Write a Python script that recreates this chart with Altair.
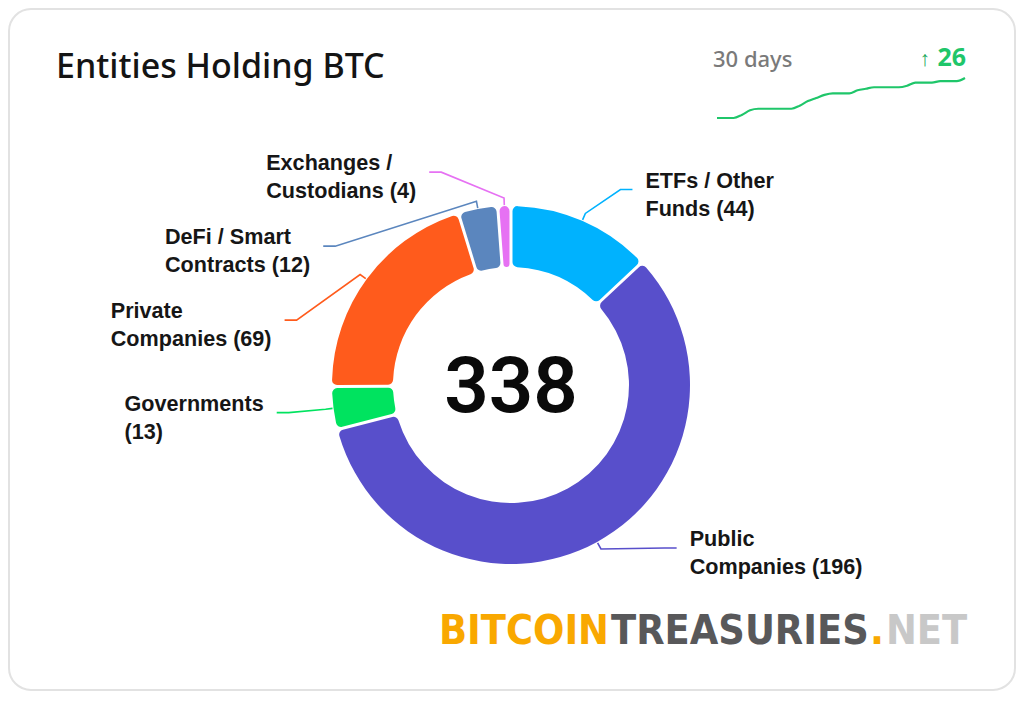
import math
import altair as alt
import pandas as pd

# ---------------- data ----------------
categories = ["ETFs / Other Funds", "Public Companies", "Governments",
              "Private Companies", "DeFi / Smart Contracts", "Exchanges / Custodians"]
counts = [44, 196, 13, 69, 12, 4]
label_line1 = ["ETFs / Other", "Public", "Governments", "Private", "DeFi / Smart", "Exchanges /"]
label_line2 = ["Funds", "Companies", "", "Companies", "Contracts", "Custodians"]
colors = ["#00b2fe", "#584fcb", "#00e35f", "#ff5b1c", "#5b86be", "#e671f3"]

trend_day = list(range(31))
trend_entities = [312, 312, 312, 314, 317, 318, 318, 318, 318, 318, 320, 323, 325, 327, 328,
                  328, 328, 330, 331, 332, 332, 332, 332, 333, 335, 335, 335, 336, 336, 336, 338]

title_text = "Entities Holding BTC"
period_text = "30 days"
logo_parts = ["BITCOIN", "TREASURIES", ".", "NET"]

# ---------------- layout ----------------
W, H = 1006, 681
PAD = 1
OFF = 8 + PAD


def px(v):
    return v - OFF


CX, CY = px(511), px(385)
R_OUT, R_IN = 179, 118
R_NAT, R_X, GAP_Y = 213, 224, 74
Y_MAX = CY + 163
TAIL, TXT_GAP = 12, 13
FS = 21.6
LABEL_FONT = "Liberation Sans, Arial, Helvetica, sans-serif"
GREEN = "#1fc66a"

ARIAL_BOLD = {
    "A": 722, "B": 722, "C": 722, "D": 722, "E": 667, "F": 611, "G": 778, "H": 722, "I": 278,
    "J": 556, "K": 722, "L": 611, "M": 833, "N": 722, "O": 778, "P": 667, "Q": 778, "R": 722,
    "S": 667, "T": 611, "U": 722, "V": 667, "W": 944, "X": 667, "Y": 667, "Z": 611,
    "a": 556, "b": 611, "c": 556, "d": 611, "e": 556, "f": 333, "g": 611, "h": 611, "i": 278,
    "j": 278, "k": 556, "l": 278, "m": 889, "n": 611, "o": 611, "p": 611, "q": 611, "r": 389,
    "s": 556, "t": 333, "u": 611, "v": 556, "w": 778, "x": 556, "y": 556, "z": 500,
    " ": 278, "(": 333, ")": 333, "/": 278,
}


def text_width(s, size):
    return sum(ARIAL_BOLD.get(ch, 556) for ch in s) * size / 1000.0


total = sum(counts)
slices = pd.DataFrame({"category": categories, "count": counts, "idx": list(range(len(counts)))})

# label placement derived from slice angles
info = []
cum = 0
for i, v in enumerate(counts):
    a0 = cum / total * 2 * math.pi
    cum += v
    a1 = cum / total * 2 * math.pi
    mid = (a0 + a1) / 2
    info.append({"i": i, "mid": mid, "left": math.sin(mid) < 0,
                 "ynat": CY - R_NAT * math.cos(mid)})

for side in (True, False):
    items = sorted([d for d in info if d["left"] == side], key=lambda d: d["ynat"])
    prev = -1e9
    for d in items:
        y = max(d["ynat"], prev + GAP_Y)
        d["y"] = min(y, Y_MAX)
        prev = d["y"]

conn_rows, label_rows = [], []
for d in info:
    i = d["i"]
    cat = categories[i]
    s = -1 if d["left"] else 1
    mid = d["mid"]
    dy = d["y"] - CY
    xe = CX + s * math.sqrt(max(R_X ** 2 - dy ** 2, 0))
    xt = xe + s * TAIL
    pts = [(CX + (R_OUT + 1) * math.sin(mid), CY - (R_OUT + 1) * math.cos(mid)),
           (CX + (R_OUT + 8) * math.sin(mid), CY - (R_OUT + 8) * math.cos(mid)),
           (xe, d["y"]), (xt, d["y"])]
    for k, (x, y) in enumerate(pts):
        conn_rows.append({"category": cat, "seq": k, "x": x, "y": y})
    l1 = label_line1[i]
    l2 = (label_line2[i] + " (" + str(counts[i]) + ")").strip()
    wmax = max(text_width(l1, FS), text_width(l2, FS))
    tx = xt + TXT_GAP if s > 0 else xt - TXT_GAP - wmax
    label_rows.append({"category": cat, "t": l1, "x": tx, "y": d["y"] - 8})
    label_rows.append({"category": cat, "t": l2, "x": tx, "y": d["y"] + 20})

conn_df = pd.DataFrame(conn_rows)
label_df = pd.DataFrame(label_rows)
trend_df = pd.DataFrame({"day": trend_day, "entities": trend_entities})
trend_change = trend_entities[-1] - trend_entities[0]

ident_x = alt.Scale(domain=[0, W], range=[0, W], nice=False, zero=False)
ident_y = alt.Scale(domain=[0, H], range=[0, H], nice=False, zero=False)
color_scale = alt.Scale(domain=categories, range=colors)

arc = alt.Chart(slices).mark_arc(
    innerRadius=R_IN, outerRadius=R_OUT, cornerRadius=5, padAngle=0.014
).encode(
    theta=alt.Theta("count:Q", stack=True),
    order=alt.Order("idx:Q", sort="ascending"),
    color=alt.Color("category:N", scale=color_scale, legend=None),
    x=alt.value(CX),
    y=alt.value(CY),
)

connectors = alt.Chart(conn_df).mark_line(strokeWidth=1.6).encode(
    x=alt.X("x:Q", scale=ident_x, axis=None),
    y=alt.Y("y:Q", scale=ident_y, axis=None),
    detail="category:N",
    order=alt.Order("seq:Q"),
    color=alt.Color("category:N", scale=color_scale, legend=None),
)

labels = alt.Chart(label_df).mark_text(
    align="left", baseline="middle", font=LABEL_FONT, fontSize=FS, fontWeight="bold", color="#161616"
).encode(
    x=alt.X("x:Q", scale=ident_x, axis=None),
    y=alt.Y("y:Q", scale=ident_y, axis=None),
    text="t:N",
)

spark = alt.Chart(trend_df).mark_line(color=GREEN, strokeWidth=2.2, interpolate="monotone").encode(
    x=alt.X("day:Q", scale=alt.Scale(domain=[0, 30], range=[px(717), px(965)], nice=False, zero=False), axis=None),
    y=alt.Y("entities:Q", scale=alt.Scale(domain=[312, 338], range=[px(118), px(78)], nice=False, zero=False), axis=None),
)


def note(text, x, y, **style):
    return alt.Chart(pd.DataFrame({"t": [text]})).mark_text(**style).encode(
        x=alt.value(px(x)), y=alt.value(px(y)), text="t:N")


notes = [
    note(title_text, 56, 78, align="left", baseline="alphabetic", font="Noto Sans", fontSize=34,
         fontWeight=500, color="#141414"),
    note(period_text, 713, 67, align="left", baseline="alphabetic", font="Noto Sans", fontSize=22,
         fontWeight=500, color="#7a7a7a"),
    note(str(trend_change), 966, 66, align="right", baseline="alphabetic", font="Noto Sans", fontSize=25,
         fontWeight="bold", color=GREEN),
    note("\u2191", 930, 66, align="right", baseline="alphabetic", font="Noto Sans", fontSize=21,
         fontWeight="normal", color="#1aa85c"),
    note(str(total), 511, 412, align="center", baseline="alphabetic", font="Roboto", fontSize=78,
         fontWeight=600, color="#0a0a0a"),
]

LOGO_FONT = "DejaVu Sans Condensed, Liberation Sans Narrow, DejaVu Sans, sans-serif"
LOGO_FS = 41
notes += [
    note(logo_parts[0], 609, 644, align="right", baseline="alphabetic", font=LOGO_FONT, fontSize=LOGO_FS,
         fontWeight="bold", color="#f9a800"),
    note(logo_parts[1], 611, 644, align="left", baseline="alphabetic", font=LOGO_FONT, fontSize=LOGO_FS,
         fontWeight="bold", color="#58585a"),
    note(logo_parts[2], 870, 644, align="left", baseline="alphabetic", font=LOGO_FONT, fontSize=LOGO_FS,
         fontWeight="bold", color="#f9a800"),
    note(logo_parts[3], 886, 644, align="left", baseline="alphabetic", font=LOGO_FONT, fontSize=LOGO_FS,
         fontWeight="bold", color="#c8c8c8"),
]

chart = alt.layer(arc, connectors, labels, spark, *notes).resolve_scale(
    x="independent", y="independent"
).properties(
    width=W, height=H, padding=PAD, autosize="none", background="white"
).configure_view(
    stroke="#e2e2e2", strokeWidth=2, cornerRadius=22, fill="white"
)

chart.save("out.html", embed_options={"renderer": "svg", "actions": False})
